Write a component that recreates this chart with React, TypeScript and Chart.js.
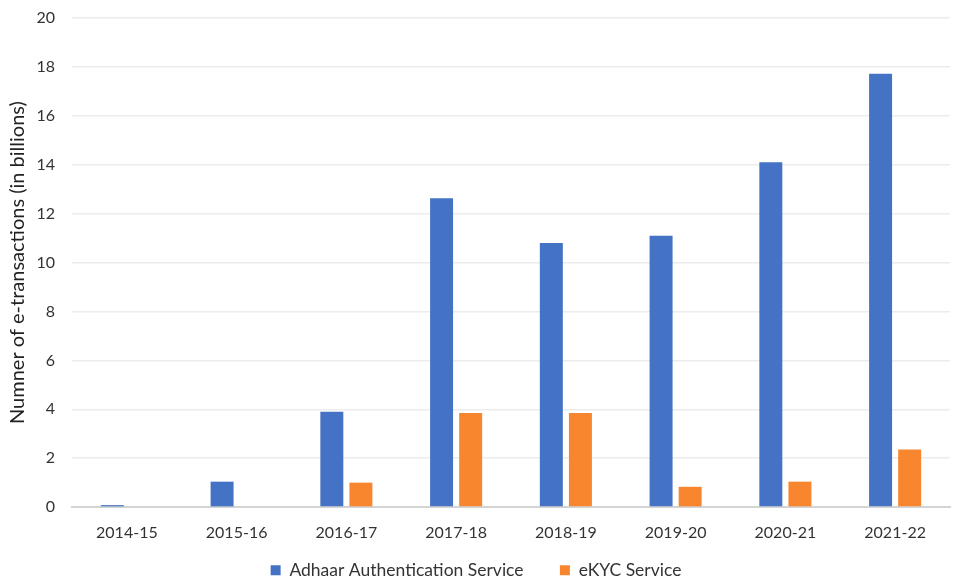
import React, { useEffect, useRef } from "react";
import { Chart, registerables } from "chart.js";

Chart.register(...registerables);

const categories = ["2014-15", "2015-16", "2016-17", "2017-18", "2018-19", "2019-20", "2020-21", "2021-22"];
const authValues = [0.08, 1.04, 3.9, 12.63, 10.8, 11.1, 14.1, 17.72];
const ekycValues = [0, 0, 1.0, 3.85, 3.85, 0.83, 1.04, 2.36];
const seriesNames = ["Adhaar Authentication Service", "eKYC Service"];
const yAxisTitle = "Numner of e-transactions (in billions)";

export default function App() {
  const ref = useRef<HTMLCanvasElement | null>(null);
  useEffect(() => {
    document.body.style.margin = "0";
    const font = "Lato, 'Open Sans', sans-serif";
    const chart = new Chart(ref.current!, {
      type: "bar",
      data: {
        labels: categories,
        datasets: [
          { label: seriesNames[0], data: authValues, backgroundColor: "#4472C4", barPercentage: 0.79, categoryPercentage: 0.53 },
          { label: seriesNames[1], data: ekycValues, backgroundColor: "#F8862F", barPercentage: 0.79, categoryPercentage: 0.53 },
        ],
      },
      options: {
        animation: false,
        responsive: false,
        maintainAspectRatio: false,
        layout: { padding: { top: 0, right: 4, left: 2, bottom: -7 } },
        plugins: {
          tooltip: { enabled: false },
          legend: {
            position: "bottom",
            labels: {
              boxWidth: 10,
              boxHeight: 10,
              color: "#333",
              font: { family: font, size: 17.5 },
              padding: 5,
              generateLabels: (c: any) => {
                const items = Chart.defaults.plugins.legend.labels.generateLabels(c);
                items.forEach((it: any, i: number) => {
                  if (i === 0) it.text = it.text + "       ";
                });
                return items;
              },
            },
          },
        },
        scales: {
          x: {
            grid: { display: false },
            border: { display: true, color: "#d4d4d4", width: 2 },
            ticks: { color: "#333", font: { family: font, size: 16 }, padding: 8 },
            title: { display: true, text: " ", font: { family: font, size: 1 }, padding: { top: 2, bottom: 3 } },
          },
          y: {
            min: 0,
            max: 20,
            grid: { color: "#ececec", drawTicks: false, lineWidth: 1.5 },
            border: { display: false },
            ticks: { stepSize: 2, color: "#333", font: { family: font, size: 16 }, padding: 17 },
            title: { display: true, text: yAxisTitle, color: "#222", font: { family: font, size: 20 }, padding: { top: 4, bottom: 0 } },
            afterFit: (s: any) => {
              s.width = 70;
              s.paddingTop = 18;
              s.paddingBottom = 0;
            },
          },
        },
      },
    });
    return () => chart.destroy();
  }, []);
  return (
    <div style={{ width: 954, height: 582 }}>
      <canvas ref={ref} width={954} height={582} style={{ width: 954, height: 582 }} />
    </div>
  );
}
